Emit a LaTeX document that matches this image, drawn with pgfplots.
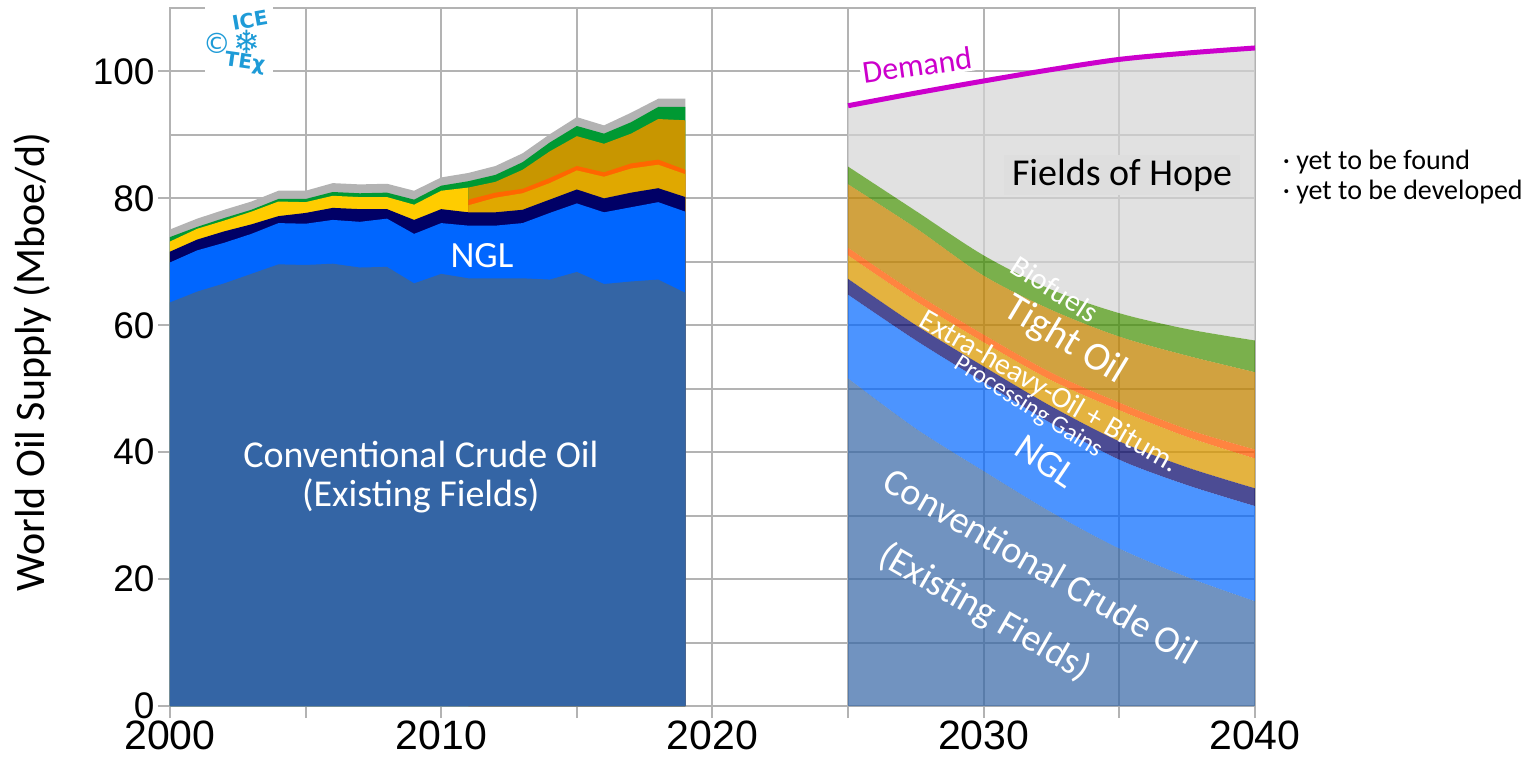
\documentclass[border=0pt]{standalone}
\usepackage{fontspec}
\setmainfont{Carlito}
\newfontfamily\arialf{Liberation Sans}
\newfontfamily\dejavu{DejaVu Sans}
\usepackage{pgfplots}
\pgfplotsset{compat=1.18}
\usepackage{pgfplotstable}

\definecolor{gridgray}{HTML}{B3B3B3}
\definecolor{crude}{HTML}{3465A5}
\definecolor{ngl}{HTML}{0066FF}
\definecolor{pg}{HTML}{000066}
\definecolor{yel}{HTML}{FFCC00}
\definecolor{gold}{HTML}{E0A800}
\definecolor{dgold}{HTML}{C89600}
\definecolor{orng}{HTML}{FF6600}
\definecolor{grn}{HTML}{009933}
\definecolor{topgray}{HTML}{B3B3B3}
\definecolor{rEH}{HTML}{DB9900}
\definecolor{rTight}{HTML}{C28300}
\definecolor{rOr}{HTML}{FF5B00}
\definecolor{rGr}{HTML}{418E00}
\definecolor{rHope}{HTML}{D4D4D4}
\definecolor{demand}{HTML}{CC00CC}
\definecolor{logo}{HTML}{1E9BD7}

\pgfplotstableread{
x C N P B G
2000 63.6 69.9 71.6 73.9 75.1
2001 65.3 71.8 73.5 75.5 76.8
2002 66.6 73.0 74.8 76.9 78.2
2003 68.1 74.4 75.9 78.2 79.5
2004 69.6 76.1 77.2 79.9 81.2
2005 69.5 76.0 77.7 79.9 81.2
2006 69.7 76.6 78.5 81.0 82.4
2007 69.1 76.3 78.3 80.8 82.2
2008 69.2 76.8 78.3 80.9 82.3
2009 66.6 74.4 76.6 79.8 81.2
2010 68.1 76.1 78.3 82.0 83.3
2011 67.4 75.7 77.8 82.7 84.0
2012 67.4 75.7 77.8 83.7 85.1
2013 67.4 76.1 78.2 85.7 87.1
2014 67.2 77.7 79.8 88.8 90.1
2015 68.4 79.2 81.4 91.4 92.8
2016 66.5 77.8 80.0 90.2 91.5
2017 66.9 78.6 80.9 92.0 93.5
2018 67.2 79.4 81.6 94.4 95.7
2019 65.1 77.9 80.2 94.4 95.7
}\leftmain

\pgfplotstableread{
x Y
2000 73.2
2001 75.2
2002 76.5
2003 77.9
2004 79.5
2005 79.4
2006 80.4
2007 80.2
2008 80.2
2009 79.0
2010 81.2
2011 81.7
}\leftyel

\pgfplotstableread{
x E O T
2011 78.9 79.8 81.7
2012 80.1 80.9 82.6
2013 80.8 81.5 84.5
2014 82.4 83.2 87.4
2015 84.4 85.1 89.8
2016 83.4 84.1 88.6
2017 84.7 85.5 90.2
2018 85.3 86.1 92.5
2019 83.8 84.5 92.3
}\lefttight

% projection: band thicknesses (stacked), demand level
\pgfplotstableread{
x C N P E O T B H D
2025   51.6 13.2 2.5 3.7 1.2 10.0 2.8 9.6 94.6
2027.5 43.7 13.9 2.4 3.8 1.2 10.3 2.7 18.6 96.6
2030   37.0 14.0 2.5 3.8 1.2 9.3 3.2 27.5 98.5
2032.5 30.5 14.0 2.7 4.1 1.2 9.9 3.2 34.7 100.3
2035   24.8 14.0 2.9 4.9 1.2 10.4 3.7 40.0 101.9
2037.5 20.3 14.5 2.8 4.8 1.2 11.6 4.2 43.5 102.9
2040   16.5 15.0 2.8 4.7 1.4 12.2 5.0 46.1 103.7
}\rightdata

\pgfplotsset{
  commonaxis/.style={
    scale only axis, width=1085bp, height=698bp,
    xmin=2000, xmax=2040, ymin=0, ymax=110,
    clip=false,
  }
}

\begin{document}
\begin{tikzpicture}
\path[use as bounding box] (-170bp,-54bp) rectangle (1364bp,706bp);
% ===== axis 1: frame, grid, history
\begin{axis}[
  commonaxis,
  xtick={2000,2010,2020,2030,2040},
  minor xtick={2005,2015,2025,2035},
  ytick={0,20,...,100},
  extra y ticks={10,30,50,70,90,110},
  extra y tick labels={},
  extra y tick style={major tick length=0pt, grid=major},
  grid=both,
  major grid style={draw=gridgray, line width=2bp},
  minor grid style={draw=gridgray, line width=2bp},
  axis line style={draw=gridgray, line width=2bp},
  tick style={draw=gridgray, line width=2bp},
  tick align=outside, major tick length=12bp, minor tick length=12bp,
  tick pos=left,
  yticklabel style={font=\arialf\fontsize{37bp}{40bp}\selectfont, text=black},
  xticklabel style={font=\arialf\fontsize{41bp}{43bp}\selectfont, text=black, yshift=-1bp, inner ysep=2bp},
  /pgf/number format/assume math mode=true,
  /pgf/number format/1000 sep={},
]
\addplot[fill=topgray, draw=none] table[x=x,y=G]{\leftmain} \closedcycle;
\addplot[fill=grn, draw=none] table[x=x,y=B]{\leftmain} \closedcycle;
\addplot[fill=yel, draw=none] table[x=x,y=Y]{\leftyel} \closedcycle;
\addplot[fill=dgold, draw=none] table[x=x,y=T]{\lefttight} \closedcycle;
\addplot[fill=orng, draw=none] table[x=x,y=O]{\lefttight} \closedcycle;
\addplot[fill=gold, draw=none] table[x=x,y=E]{\lefttight} \closedcycle;
\addplot[fill=pg, draw=none] table[x=x,y=P]{\leftmain} \closedcycle;
\addplot[fill=ngl, draw=none] table[x=x,y=N]{\leftmain} \closedcycle;
\addplot[fill=crude, draw=none] table[x=x,y=C]{\leftmain} \closedcycle;
\end{axis}
% ===== axis 2: projection, stacked translucent bands
\begin{axis}[commonaxis, hide axis, stack plots=y]
\addplot[fill=crude, fill opacity=0.7, draw=none, smooth] table[x=x,y=C]{\rightdata} \closedcycle;
\addplot[fill=ngl, fill opacity=0.7, draw=none, smooth] table[x=x,y=N]{\rightdata} \closedcycle;
\addplot[fill=pg, fill opacity=0.7, draw=none, smooth] table[x=x,y=P]{\rightdata} \closedcycle;
\addplot[fill=rEH, fill opacity=0.75, draw=none, smooth] table[x=x,y=E]{\rightdata} \closedcycle;
\addplot[fill=rOr, fill opacity=0.75, draw=none, smooth] table[x=x,y=O]{\rightdata} \closedcycle;
\addplot[fill=rTight, fill opacity=0.75, draw=none, smooth] table[x=x,y=T]{\rightdata} \closedcycle;
\addplot[fill=rGr, fill opacity=0.7, draw=none, smooth] table[x=x,y=B]{\rightdata} \closedcycle;
\addplot[fill=rHope, fill opacity=0.7, draw=none, smooth] table[x=x,y=H]{\rightdata} \closedcycle;
\end{axis}
% ===== axis 3: demand line and labels
\begin{axis}[commonaxis, hide axis]
\addplot[demand, line width=5bp, smooth] table[x=x,y=D]{\rightdata};

\node[text=white, font=\fontsize{37bp}{40bp}\selectfont] at (axis cs:2011.5,70.9) {NGL};
\node[text=white, align=center, font=\fontsize{38bp}{39bp}\selectfont] at (axis cs:2009.25,36.1) {Conventional Crude Oil\\(Existing Fields)};

\node[text=demand, fill=white, inner sep=2bp, rotate=8, font=\fontsize{32bp}{34bp}\selectfont] at (axis cs:2027.54,101.0) {Demand};
\node[fill=black!13, inner xsep=8bp, inner ysep=4bp, font=\fontsize{38bp}{40bp}\selectfont] at (axis cs:2035.1,83.7) {Fields of Hope};
\node[anchor=west, align=left, font=\fontsize{28bp}{30bp}\selectfont] at (axis cs:2040.9,83.4) {· yet to be found\\· yet to be developed};
\node[text=white, rotate=-33, font=\fontsize{30bp}{32bp}\selectfont] at (axis cs:2032.63,65.7) {Biofuels};
\node[text=white, rotate=-31, font=\fontsize{40bp}{42bp}\selectfont] at (axis cs:2033.0,57.6) {Tight Oil};
\node[text=white, rotate=-30, font=\fontsize{30bp}{32bp}\selectfont] at (axis cs:2032.4,49.4) {Extra-heavy-Oil + Bitum.};
\node[text=white, rotate=-32, font=\fontsize{25bp}{27bp}\selectfont] at (axis cs:2031.63,47.1) {Processing Gains};
\node[text=white, rotate=-34, font=\fontsize{38bp}{40bp}\selectfont] at (axis cs:2032.3,38.5) {NGL};
\node[text=white, rotate=-30, font=\fontsize{38bp}{40bp}\selectfont] at (axis cs:2032.1,22.1) {Conventional Crude Oil};
\node[text=white, rotate=-30, font=\fontsize{38bp}{40bp}\selectfont] at (axis cs:2030.05,14.7) {(Existing Fields)};

\fill[white] (axis cs:2001.3,99.5) rectangle (axis cs:2003.8,110.6);
\node[text=logo, rotate=10, font=\dejavu\bfseries\fontsize{20bp}{21bp}\selectfont] at (axis cs:2002.95,108.1) {ICE};
\node[text=logo, font=\dejavu\fontsize{28bp}{30bp}\selectfont] at (axis cs:2001.73,104.5) {©};
\node[text=logo, font=\dejavu\fontsize{32bp}{34bp}\selectfont] at (axis cs:2002.84,104.6) {❄};
\node[text=logo, rotate=-8, font=\dejavu\bfseries\fontsize{20bp}{21bp}\selectfont] at (axis cs:2002.76,101.3) {TEχ};
\end{axis}
\node[rotate=90, font=\fontsize{42bp}{44bp}\selectfont] at (-137bp,344bp) {World Oil Supply (Mboe/d)};
\end{tikzpicture}
\end{document}
